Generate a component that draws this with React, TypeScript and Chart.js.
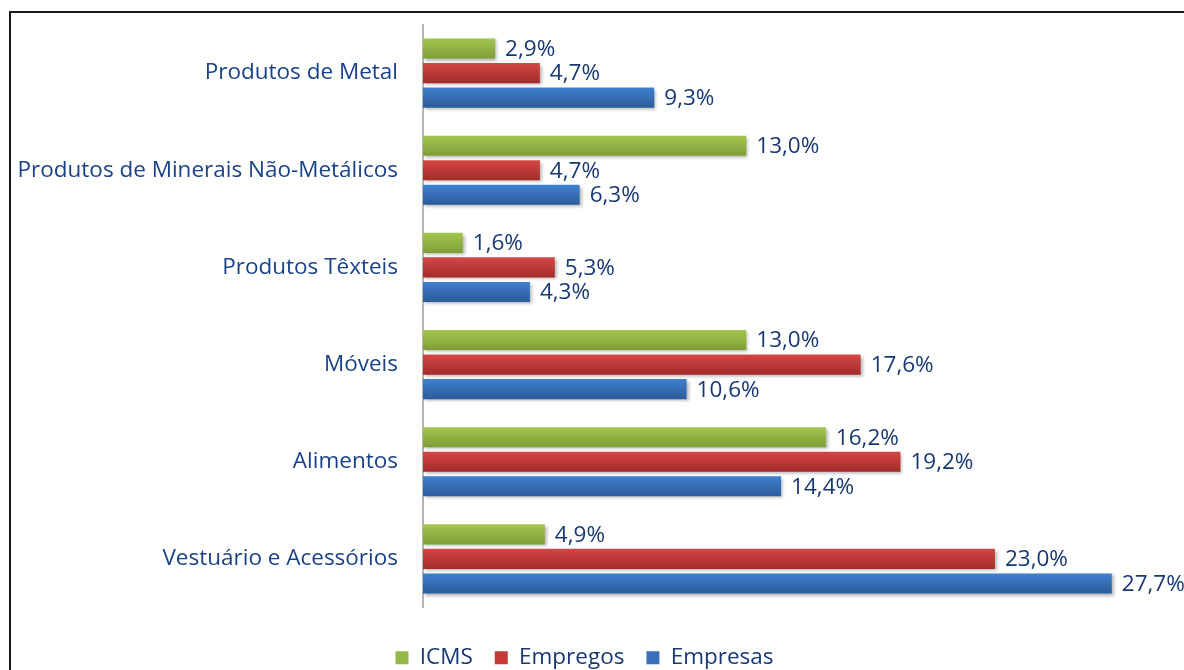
import React, { useEffect, useRef } from "react";
import { Chart, registerables } from "chart.js";

Chart.register(...registerables);

const categories = [
  "Produtos de Metal",
  "Produtos de Minerais Não-Metálicos",
  "Produtos Têxteis",
  "Móveis",
  "Alimentos",
  "Vestuário e Acessórios",
];
const icms = [2.9, 13.0, 1.6, 13.0, 16.2, 4.9];
const empregos = [4.7, 4.7, 5.3, 17.6, 19.2, 23.0];
const empresas = [9.3, 6.3, 4.3, 10.6, 14.4, 27.7];
const seriesNames = ["ICMS", "Empregos", "Empresas"];

const baseColors = ["#93B84A", "#C43A38", "#3A70B8"];
const gradTop = ["#A2C64F", "#D44744", "#3F80D0"];
const gradBottom = ["#7E9E38", "#A22B29", "#2C5B98"];

const FONT = "'Open Sans', sans-serif";

const gradientPlugin = {
  id: "gradients",
  beforeDatasetsDraw(chart: any) {
    const ctx = chart.ctx;
    chart.data.datasets.forEach((ds: any, di: number) => {
      const meta = chart.getDatasetMeta(di);
      meta.data.forEach((el: any) => {
        const top = el.y - el.height / 2;
        const bot = el.y + el.height / 2;
        const g = ctx.createLinearGradient(0, top, 0, bot);
        g.addColorStop(0, gradTop[di]);
        g.addColorStop(1, gradBottom[di]);
        el.options.backgroundColor = g;
      });
    });
  },
  beforeDatasetDraw(chart: any) {
    const ctx = chart.ctx;
    ctx.save();
    ctx.shadowColor = "rgba(0,0,0,0.28)";
    ctx.shadowOffsetX = 2;
    ctx.shadowOffsetY = 2;
    ctx.shadowBlur = 3;
  },
  afterDatasetDraw(chart: any) {
    chart.ctx.restore();
  },
};

const valueLabelPlugin = {
  id: "valueLabels",
  afterDatasetsDraw(chart: any) {
    const ctx = chart.ctx;
    ctx.save();
    ctx.font = `22.5px ${FONT}`;
    ctx.fillStyle = "#183872";
    ctx.textAlign = "left";
    ctx.textBaseline = "middle";
    chart.data.datasets.forEach((ds: any, di: number) => {
      const meta = chart.getDatasetMeta(di);
      meta.data.forEach((el: any, i: number) => {
        const v = ds.data[i] as number;
        const txt = v.toFixed(1).replace(".", ",") + "%";
        ctx.fillText(txt, el.x + 10, el.y + 1);
      });
    });
    ctx.restore();
  },
};

export default function App() {
  const ref = useRef<HTMLCanvasElement | null>(null);
  useEffect(() => {
    if (!ref.current) return;
    const data = [icms, empregos, empresas];
    const chart = new Chart(ref.current, {
      type: "bar",
      data: {
        labels: categories,
        datasets: seriesNames.map((name, i) => ({
          label: name,
          data: data[i],
          backgroundColor: () => baseColors[i],
          borderWidth: 0,
          categoryPercentage: 0.758,
          barPercentage: 0.82,
        })),
      },
      options: {
        indexAxis: "y",
        responsive: false,
        animation: false,
        devicePixelRatio: 1,
        layout: { padding: { top: 11, right: 15, bottom: -9, left: 0 } },
        scales: {
          x: {
            display: true,
            min: 0,
            max: 30,
            grid: { display: false, drawTicks: false },
            border: { display: false },
            ticks: { display: false },
            afterFit(scale: any) {
              scale.height = 17;
            },
          },
          y: {
            grid: { display: false, drawTicks: true, tickLength: 14 },
            border: { display: true, color: "#B5B5B5", width: 2 },
            ticks: {
              padding: 11,
              color: "#1B4288",
              font: { family: FONT, size: 22.5 },
            },
            afterFit(scale: any) {
              scale.width = 423;
            },
          },
        },
        plugins: {
          legend: {
            position: "bottom",
            labels: {
              boxWidth: 13,
              boxHeight: 13,
              padding: 22,
              color: "#183872",
              font: { family: FONT, size: 22.5 },
            },
          },
          tooltip: { enabled: false },
        },
      },
      plugins: [gradientPlugin, valueLabelPlugin],
    } as any);
    return () => chart.destroy();
  }, []);
  return (
    <div
      style={{
        position: "fixed",
        left: 0,
        top: 0,
        width: 1184,
        height: 670,
        overflow: "hidden",
        background: "#fff",
      }}
    >
      <div
        style={{
          position: "absolute",
          left: 9,
          top: 11,
          width: 1400,
          height: 900,
          border: "2px solid #1a1a1a",
        }}
      />
      <canvas
        ref={ref}
        width={1184}
        height={670}
        style={{ position: "absolute", left: 0, top: 0, width: 1184, height: 670 }}
      />
    </div>
  );
}
